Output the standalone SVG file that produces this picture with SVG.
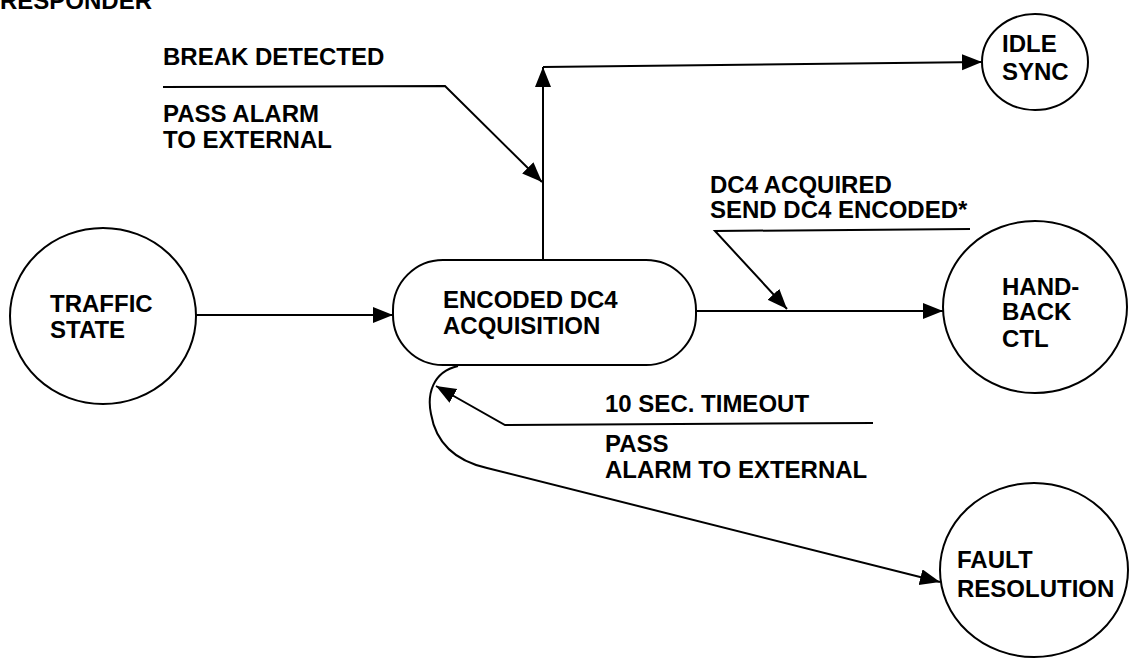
<svg xmlns="http://www.w3.org/2000/svg" width="1129" height="659" viewBox="0 0 1129 659">
<style>
text{font-family:"Liberation Sans",Arial,sans-serif;font-weight:bold;font-size:24px;fill:#000}
.n{fill:#fff;stroke:#000;stroke-width:2}
.c{fill:none;stroke:#000;stroke-width:2}
</style>
<defs>
<marker id="ah" markerUnits="userSpaceOnUse" markerWidth="22" markerHeight="18" refX="20" refY="8" orient="auto">
<path d="M0,0 L20,8 L0,16 Z" fill="#000"/>
</marker>
</defs>
<rect width="1129" height="659" fill="#fff"/>
<text x="0" y="9" font-size="25">RESPONDER</text>
<g id="connectors">
<line class="c" x1="196" y1="315" x2="393" y2="315" marker-end="url(#ah)"/>
<polyline class="c" points="543,260 543,67" marker-end="url(#ah)"/>
<line class="c" x1="543" y1="67" x2="982" y2="62" marker-end="url(#ah)"/>
<polyline class="c" points="163,87 445,86 542,182" marker-end="url(#ah)"/>
<line class="c" x1="696" y1="311" x2="943" y2="311" marker-end="url(#ah)"/>
<polyline class="c" points="970,229 715,231 787,309" marker-end="url(#ah)"/>
<polyline class="c" points="873,423 505,425 436,386" marker-end="url(#ah)"/>
<path class="c" d="M458,366 C432,372 427,395 431,414 C436,443 456,461 487,468 L940,582" marker-end="url(#ah)"/>
</g>
<g id="traffic">
<ellipse class="n" cx="103" cy="316" rx="93" ry="88"/>
<text x="50" y="312">TRAFFIC</text>
<text x="50" y="338">STATE</text>
</g>
<g id="encoded">
<rect class="n" x="393" y="260" width="303" height="105" rx="50" ry="50"/>
<text x="443" y="308">ENCODED DC4</text>
<text x="443" y="334">ACQUISITION</text>
</g>
<g id="idle">
<ellipse class="n" cx="1035" cy="62" rx="53" ry="48"/>
<text x="1002" y="52">IDLE</text>
<text x="1002" y="80">SYNC</text>
</g>
<g id="handback">
<ellipse class="n" cx="1035" cy="307" rx="92" ry="86"/>
<text x="1002" y="295">HAND-</text>
<text x="1002" y="320">BACK</text>
<text x="1002" y="347">CTL</text>
</g>
<g id="fault">
<ellipse class="n" cx="1034" cy="570" rx="94" ry="87"/>
<text x="957" y="568">FAULT</text>
<text x="957" y="597">RESOLUTION</text>
</g>
<g id="labels">
<text x="163" y="65">BREAK DETECTED</text>
<text x="163" y="122">PASS ALARM</text>
<text x="163" y="148">TO EXTERNAL</text>
<text x="710" y="193">DC4 ACQUIRED</text>
<text x="710" y="218">SEND DC4 ENCODED*</text>
<text x="605" y="412">10 SEC. TIMEOUT</text>
<text x="605" y="452">PASS</text>
<text x="605" y="478">ALARM TO EXTERNAL</text>
</g>
</svg>
